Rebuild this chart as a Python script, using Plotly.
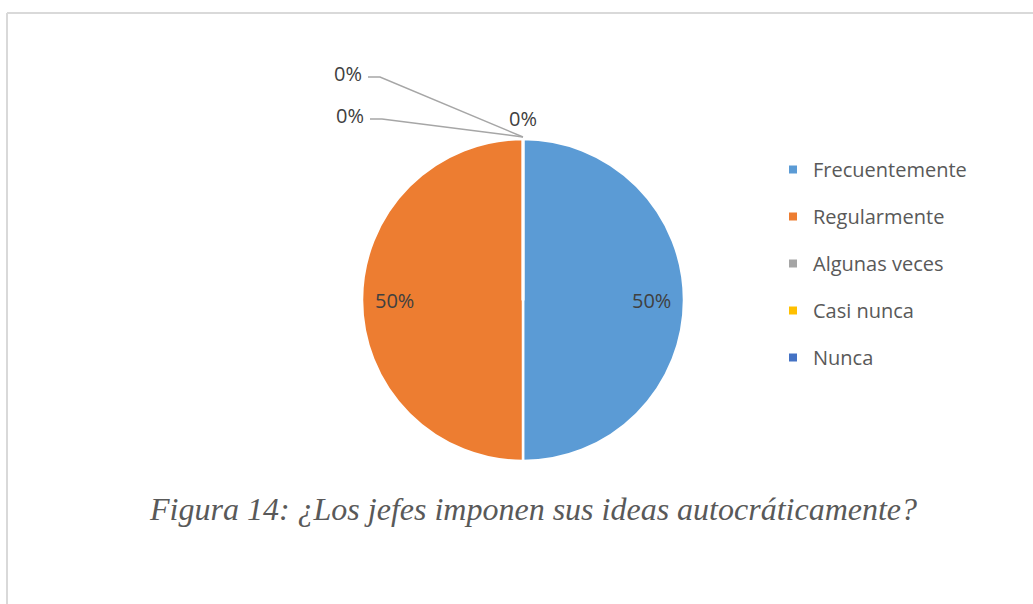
import math
import plotly.graph_objects as go

W, H = 1033, 604

categories = ["Frecuentemente", "Regularmente", "Algunas veces", "Casi nunca", "Nunca"]
values = [50, 50, 0, 0, 0]
colors = ["#5B9BD5", "#ED7D31", "#A5A5A5", "#FFC000", "#4472C4"]
caption = "Figura 14: ¿Los jefes imponen sus ideas autocráticamente?"

# pie geometry in pixels
cx, cy, r = 523, 300, 161
dom_x = [(cx - r) / W, (cx + r) / W]
dom_y = [1 - (cy + r) / H, 1 - (cy - r) / H]

fig = go.Figure()
fig.add_trace(go.Pie(
    labels=categories, values=values, sort=False, direction="clockwise",
    rotation=0, textinfo="none", hoverinfo="label+percent",
    marker=dict(colors=colors, line=dict(color="white", width=2.5)),
    domain=dict(x=dom_x, y=dom_y), showlegend=False,
))

# legend via dummy traces for spacing
for i, (c, col) in enumerate(zip(categories, colors)):
    fig.add_trace(go.Scatter(
        x=[None], y=[None], mode="markers", name=c, legendgroup=c,
        marker=dict(symbol="square", size=8, color=col),
    ))

def px(x, y):
    return x / W, 1 - y / H

total = sum(values)
annotations = []
shapes = []
label_font = dict(family="Open Sans, Noto Sans, sans-serif", size=20, color="#404040")

# data labels
start = 90.0
zero_idx = 0
zero_offsets = [(0, -19), (-157, -22), (-159, -64)]  # label offsets from slice point (px)
for v, c in zip(values, categories):
    frac = v / total
    sweep = 360 * frac
    mid = start - sweep / 2
    pct = f"{round(frac * 100)}%"
    if v > 0:
        lx = cx + 0.8 * r * math.cos(math.radians(mid))
        ly = cy - 0.8 * r * math.sin(math.radians(mid))
        x, y = px(lx, ly)
        annotations.append(dict(x=x, y=y, xref="paper", yref="paper", text=pct,
                                showarrow=False, font=label_font,
                                xanchor="center", yanchor="middle"))
    else:
        ex = cx + r * math.cos(math.radians(mid))
        ey = cy - r * math.sin(math.radians(mid)) - 2
        dx, dy = zero_offsets[zero_idx]
        lx, ly = ex + dx, ey + dy
        x, y = px(lx, ly)
        annotations.append(dict(x=x, y=y, xref="paper", yref="paper", text=pct,
                                showarrow=False, font=label_font, yanchor="middle",
                                xanchor="center" if dx == 0 else "right"))
        if dx != 0:
            x0, y0 = px(lx + 4, ly + 4)
            x1, y1 = px(lx + 16, ly + 4)
            x2, y2 = px(ex, ey)
            shapes.append(dict(type="path", xref="paper", yref="paper",
                               path=f"M {x0} {y0} L {x1} {y1} L {x2} {y2}",
                               line=dict(color="#A6A6A6", width=1.5)))
        zero_idx += 1
    start -= sweep

# caption
x, y = px(533, 509)
annotations.append(dict(x=x, y=y, xref="paper", yref="paper", text=caption,
                        showarrow=False, xanchor="center", yanchor="middle",
                        font=dict(family="Liberation Serif, Times New Roman, serif",
                                  size=32, color="#595959", style="italic")))

# frame
fx, fy = px(7, 13)
shapes.append(dict(type="line", xref="paper", yref="paper", x0=fx, y0=fy,
                   x1=1, y1=fy, line=dict(color="#D9D9D9", width=2)))
shapes.append(dict(type="line", xref="paper", yref="paper", x0=fx, y0=fy,
                   x1=fx, y1=0, line=dict(color="#D9D9D9", width=2)))

lx0, ly0 = px(773, 150)
fig.update_layout(
    width=W, height=H, margin=dict(l=0, r=0, t=0, b=0),
    paper_bgcolor="white", plot_bgcolor="white",
    xaxis=dict(visible=False), yaxis=dict(visible=False),
    legend=dict(x=lx0, y=ly0, xanchor="left", yanchor="top",
                font=dict(family="Open Sans, Noto Sans, sans-serif", size=20, color="#595959"),
                tracegroupgap=18, traceorder="grouped", itemwidth=30,
                bgcolor="rgba(0,0,0,0)"),
    annotations=annotations, shapes=shapes,
)

fig.write_html("out.html")
